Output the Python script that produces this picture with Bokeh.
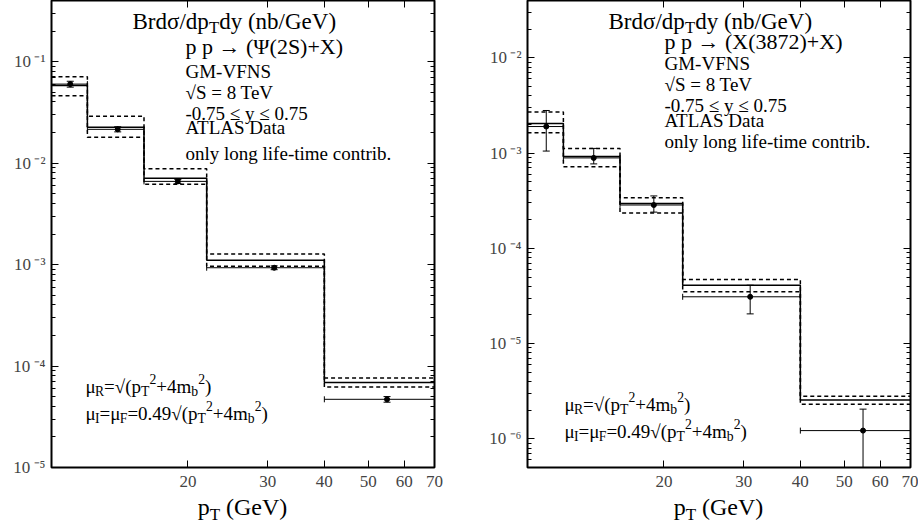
import math
from bokeh.plotting import figure
from bokeh.models import LogAxis, FixedTicker, CustomJSTickFormatter, Label, Range1d, LogScale, Div
from bokeh.layouts import row, column
from bokeh.embed import file_html
from bokeh.resources import INLINE

FONT = "Liberation Serif"

# ---------------- data ----------------
pt_edges = [10, 12, 16, 22, 40, 70]
pt_points = [11, 14, 19, 31, 55]
x_ticks = [20, 30, 40, 50, 60, 70]

# Psi(2S) panel
psi_central = [0.058, 0.0225, 0.0071, 1.10e-3, 6.9e-5]
psi_upper = [0.071, 0.0290, 0.0088, 1.27e-3, 7.6e-5]
psi_lower = [0.046, 0.0180, 0.0062, 9.6e-4, 6.2e-5]
psi_data = [0.060, 0.0215, 0.0066, 9.3e-4, 4.7e-5]
psi_err_hi = [0.064, 0.0228, 0.0069, 9.7e-4, 5.0e-5]
psi_err_lo = [0.056, 0.0203, 0.0063, 8.9e-4, 4.4e-5]

# X(3872) panel
x_central = [2.05e-3, 9.2e-4, 2.95e-4, 4.1e-5, 2.55e-6]
x_upper = [2.70e-3, 1.12e-3, 3.40e-4, 4.7e-5, 2.80e-6]
x_lower = [1.64e-3, 7.2e-4, 2.35e-4, 3.5e-5, 2.30e-6]
x_data = [1.90e-3, 8.9e-4, 2.85e-4, 3.1e-5, 1.22e-6]
x_err_hi = [2.80e-3, 1.12e-3, 3.55e-4, 4.1e-5, 2.05e-6]
x_err_lo = [1.05e-3, 7.7e-4, 2.40e-4, 2.05e-5, 3.0e-7]

psi_yrange = (1e-5, 0.4)
x_yrange = (5e-7, 0.04)

title_segs = [("Brdσ/dp", "n"), ("T", "sub"), ("dy (nb/GeV)", "n")]
psi_process = "p p → (Ψ(2S)+X)"
x_process = "p p → (X(3872)+X)"
info_lines = ["GM-VFNS", "√S = 8 TeV", "-0.75 ≤  y ≤ 0.75", "ATLAS Data", "only long life-time contrib."]
muR_segs = [("μ", "n"), ("R", "sub"), ("=√(p", "n"), ("T", "sub"), ("2", "sup"),
            ("+4m", "n"), ("b", "sub"), ("2", "sup"), (")", "n")]
muI_segs = [("μ", "n"), ("I", "sub"), ("=μ", "n"), ("F", "sub"), ("=0.49√(p", "n"), ("T", "sub"),
            ("2", "sup"), ("+4m", "n"), ("b", "sub"), ("2", "sup"), (")", "n")]
xlabel_html = "p<sub style='font-size:17px;vertical-align:-5px;line-height:0'>T</sub> (GeV)"

# Times-like advance widths (per 1000 em)
W = {' ': 250, '(': 333, ')': 333, '+': 564, '-': 333, '.': 250, '/': 278, '=': 564,
     'B': 667, 'F': 556, 'G': 722, 'I': 333, 'R': 667, 'T': 611, 'V': 722, 'X': 722, 'S': 556,
     'a': 444, 'b': 500, 'd': 500, 'e': 444, 'm': 778, 'n': 500, 'p': 500, 'r': 333, 'y': 500,
     'σ': 550, 'μ': 500, '√': 549, '→': 1000, 'Ψ': 760}


def tw(s, size):
    return sum(W.get(c, 500) for c in s) * size / 1000.0


def rich(p, segs, ax, ay, dx, dy, size):
    """segments drawn from data anchor (ax, ay); dx right, dy down (px), at baseline."""
    cx = 0.0
    for txt, kind in segs:
        if kind == "n":
            fs, sh = size, 0.0
        elif kind == "sub":
            fs, sh = size * 0.72, -0.26 * size
        else:
            fs, sh = size * 0.72, 0.40 * size
        p.add_layout(Label(x=ax, y=ay, x_offset=dx + cx, y_offset=-dy + sh, text=txt,
                           text_font=FONT, text_font_size="%.1fpx" % fs, text_color="black",
                           text_baseline="alphabetic", text_align="left"))
        cx += tw(txt, fs)


def plain(p, txt, ax, ay, dx, dy, size):
    p.add_layout(Label(x=ax, y=ay, x_offset=dx, y_offset=-dy, text=txt, text_font=FONT,
                       text_font_size="%dpx" % size, text_color="black",
                       text_baseline="alphabetic", text_align="left"))


Y_FMT = """
const sup = {"-":"\\u207b","0":"\\u2070","1":"\\u00b9","2":"\\u00b2","3":"\\u00b3","4":"\\u2074",
             "5":"\\u2075","6":"\\u2076","7":"\\u2077","8":"\\u2078","9":"\\u2079"};
const e = Math.round(Math.log10(tick));
return "10\\u2009" + String(e).split("").map(c => sup[c]).join("");
"""


def style_ticks(ax):
    ax.axis_line_color = None
    ax.major_tick_in = 7
    ax.major_tick_out = 0
    ax.minor_tick_in = 4
    ax.minor_tick_out = 0
    ax.major_tick_line_color = "black"
    ax.minor_tick_line_color = "black"
    ax.major_tick_line_width = 1
    ax.minor_tick_line_width = 1


def make_panel(width, bl, br, central, upper, lower, data, err_hi, err_lo, yr,
               process, px, info_base, mu_base, mu_x):
    yt_major = []
    yt_minor = []
    emin = int(math.floor(math.log10(yr[0])))
    emax = int(math.ceil(math.log10(yr[1])))
    for e in range(emin, emax + 1):
        if yr[0] <= 10.0 ** e <= yr[1]:
            yt_major.append(10.0 ** e)
        for k in range(2, 10):
            if yr[0] <= k * 10.0 ** e <= yr[1]:
                yt_minor.append(k * 10.0 ** e)

    p = figure(width=width, height=495, x_axis_type=None, y_axis_type=None,
               x_range=Range1d(pt_edges[0], pt_edges[-1]), y_range=Range1d(*yr),
               output_backend="svg", toolbar_location=None,
               min_border_left=bl, min_border_right=br, min_border_top=0, min_border_bottom=28)
    p.x_scale = LogScale()
    p.y_scale = LogScale()
    p.grid.visible = False
    p.outline_line_color = "black"
    p.outline_line_width = 2
    p.background_fill_color = "white"
    p.border_fill_color = "white"

    blank = CustomJSTickFormatter(code="return '';")
    left = LogAxis(ticker=FixedTicker(ticks=yt_major, minor_ticks=yt_minor),
                   formatter=CustomJSTickFormatter(code=Y_FMT),
                   major_label_text_font=FONT, major_label_text_font_size="17px",
                   major_label_standoff=6)
    right = LogAxis(ticker=FixedTicker(ticks=yt_major, minor_ticks=yt_minor),
                    formatter=blank, major_label_standoff=0)
    bottom = LogAxis(ticker=FixedTicker(ticks=x_ticks, minor_ticks=[]),
                     formatter=CustomJSTickFormatter(code="return tick.toFixed(0);"),
                     major_label_text_font=FONT, major_label_text_font_size="17px",
                     major_label_standoff=8)
    top = LogAxis(ticker=FixedTicker(ticks=x_ticks, minor_ticks=[]),
                  formatter=blank, major_label_standoff=0)
    for ax in (left, right, bottom, top):
        style_ticks(ax)
    p.add_layout(left, "left")
    p.add_layout(right, "right")
    p.add_layout(bottom, "below")
    p.add_layout(top, "above")

    # theory histograms
    p.step(x=pt_edges, y=list(upper) + [upper[-1]], mode="after", line_color="black",
           line_width=1.5, line_dash="4 3")
    p.step(x=pt_edges, y=list(lower) + [lower[-1]], mode="after", line_color="black",
           line_width=1.5, line_dash="4 3")
    p.step(x=pt_edges, y=list(central) + [central[-1]], mode="after", line_color="black",
           line_width=1.5)

    # data with error bars
    p.segment(x0=pt_edges[:-1], y0=data, x1=pt_edges[1:], y1=data, line_color="black", line_width=1)
    p.scatter(x=pt_edges[:-1], y=data, marker="dash", angle=math.pi / 2, size=6, line_color="black")
    p.scatter(x=pt_edges[1:], y=data, marker="dash", angle=math.pi / 2, size=6, line_color="black")
    p.segment(x0=pt_points, y0=err_lo, x1=pt_points, y1=err_hi, line_color="black", line_width=1)
    p.scatter(x=pt_points, y=err_hi, marker="dash", size=7, line_color="black")
    p.scatter(x=pt_points, y=err_lo, marker="dash", size=7, line_color="black")
    p.scatter(x=pt_points, y=data, marker="circle", size=5, fill_color="black", line_color="black")

    # annotations
    x0, ytop = pt_edges[0], yr[1]
    rich(p, title_segs, x0, ytop, 81, 21, 23)
    plain(p, process, x0, ytop, px, info_base[0], 22)
    for txt, b in zip(info_lines, info_base[1:]):
        plain(p, txt, x0, ytop, px, b, 19)
    rich(p, muR_segs, x0, ytop, mu_x, mu_base[0], 19)
    rich(p, muI_segs, x0, ytop, mu_x, mu_base[1], 19)
    return p


def xlabel_div(width, left_pad):
    html = ("<div style=\"font-family:'Liberation Serif',serif;font-size:24px;line-height:24px;"
            "color:black;text-align:center;width:383px;margin-left:%dpx;white-space:nowrap;\">%s</div>"
            % (left_pad, xlabel_html))
    return Div(text=html, width=width, height=32, margin=0)


p1 = make_panel(480, 51, 46, psi_central, psi_upper, psi_lower, psi_data, psi_err_hi, psi_err_lo,
                psi_yrange, psi_process, 134, [46, 71, 92, 113, 127, 153], [386, 413], 34)
p2 = make_panel(438, 47, 8, x_central, x_upper, x_lower, x_data, x_err_hi, x_err_lo,
                x_yrange, x_process, 137, [41, 63, 84, 105, 120, 141], [404, 431], 37)

layout = column(row(p1, p2), row(xlabel_div(480, 51), xlabel_div(438, 47)))
open("out.html", "w").write(file_html(layout, INLINE))
